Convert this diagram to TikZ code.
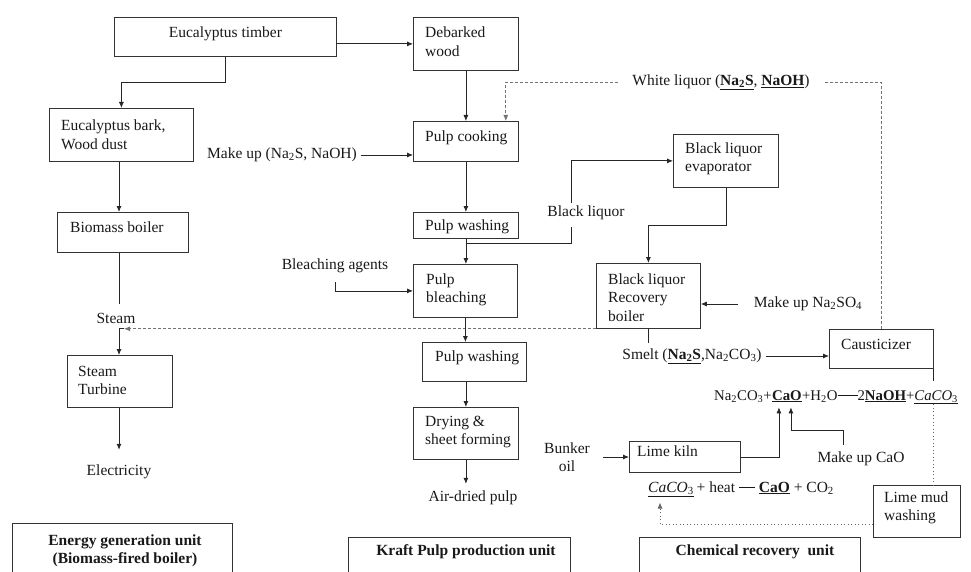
\documentclass[tikz,border=0pt]{standalone}
\usepackage{fontspec}
\setmainfont{Liberation Serif}
\usetikzlibrary{arrows.meta,calc}
\newcommand\mybox[5]{\node[box, minimum width=#4pt, minimum height=#5pt] (#1) at (#2,#3) {};}
\begin{document}
\begin{tikzpicture}[x=1pt,y=-1pt,
  ln/.style={draw=black!85, line width=0.8pt},
  arr/.style={ln, -{Latex[length=6pt,width=5pt]}},
  dsh/.style={draw=black!55, line width=0.8pt, dash pattern=on 3pt off 2pt},
  dsharr/.style={dsh, -{Latex[length=6pt,width=5pt]}},
  dotln/.style={draw=black!60, line width=0.9pt, dash pattern=on 1pt off 2.5pt},
  dotarr/.style={dotln, -{Latex[length=6pt,width=5pt]}},
  box/.style={draw=black!80, line width=0.8pt, anchor=north west, inner sep=0pt},
  t/.style={font=\fontsize{15.5}{18.5}\selectfont, inner sep=0pt, align=left, text=black!90},
  teq/.style={font=\fontsize{14.8}{18}\selectfont, inner sep=0pt, text=black!90},
  tb/.style={font=\fontsize{15.5}{18.5}\selectfont\bfseries, inner sep=0pt, align=center, text=black!90}]
\useasboundingbox (0,0) rectangle (971,572);
\fill[white] (0,0) rectangle (971,572);
% ---------- boxes ----------
\mybox{timber}{114}{17}{222}{39}
\node[t, yshift=3pt] (timbert) at (timber.center) {Eucalyptus timber};
\mybox{debark}{413}{17}{105}{53}
\node[t, anchor=west, yshift=2pt] (debarkt) at ([xshift=12pt]debark.west) {Debarked\\wood};
\mybox{bark}{49}{108}{144}{53}
\node[t, anchor=west] (barkt) at ([xshift=12pt]bark.west) {Eucalyptus bark,\\Wood dust};
\mybox{cook}{413}{121}{105}{40}
\node[t, anchor=west, yshift=4pt] (cookt) at ([xshift=12pt]cook.west) {Pulp cooking};
\mybox{wash1}{413}{212}{105}{26}
\node[t, anchor=west, yshift=-1pt] (wash1t) at ([xshift=12pt]wash1.west) {Pulp washing};
\mybox{bleach}{413}{264}{104}{53}
\node[t, anchor=west, yshift=1pt] (bleacht) at ([xshift=13pt]bleach.west) {Pulp\\bleaching};
\mybox{wash2}{422}{342}{104}{39}
\node[t, anchor=west, yshift=4pt] (wash2t) at ([xshift=13pt]wash2.west) {Pulp washing};
\mybox{dry}{413}{407}{105}{52}
\node[t, anchor=west, yshift=1.5pt] (dryt) at ([xshift=12pt]dry.west) {Drying \&\\sheet forming};
\mybox{boiler}{57}{212}{131}{40}
\node[t, anchor=west, yshift=5pt] (boilert) at ([xshift=13pt]boiler.west) {Biomass boiler};
\mybox{turb}{67}{355}{105}{52}
\node[t, anchor=west, yshift=1pt] (turbt) at ([xshift=11pt]turb.west) {Steam\\Turbine};
\mybox{evap}{673}{134}{105}{53}
\node[t, anchor=west, yshift=2pt] (evapt) at ([xshift=12pt]evap.west) {Black liquor\\evaporator};
\mybox{recov}{596}{263}{104}{65}
\node[t, anchor=west, yshift=-1.5pt] (recovt) at ([xshift=12pt]recov.west) {Black liquor\\Recovery\\boiler};
\mybox{caus}{829}{329}{104}{39}
\node[t, anchor=west, yshift=4.5pt] (caust) at ([xshift=12pt]caus.west) {Causticizer};
\mybox{kiln}{629}{441}{111}{31}
\node[t, anchor=west, yshift=6pt] (kilnt) at ([xshift=8pt]kiln.west) {Lime kiln};
\mybox{lmw}{873}{485}{87}{52}
\node[t, anchor=west, yshift=3.5pt] (lmwt) at ([xshift=11pt]lmw.west) {Lime mud\\washing};
% unit boxes
\mybox{energy}{12}{523}{220}{62}
\node[tb] (energyt) at (125,551) {Energy generation unit\\(Biomass-fired boiler)};
\mybox{kraft}{348}{537}{222}{50}
\node[tb] (kraftt) at (466,552) {Kraft Pulp production unit};
\mybox{chem}{639}{537}{221}{50}
\node[tb] (chemt) at (755,552) {Chemical recovery\ \ unit};
% ---------- free labels ----------
\node[t] (mk1) at (282,155) {Make up (Na\textsubscript{2}S, NaOH)};
\node[t, inner xsep=14pt] (wlq) at (721,82) {White liquor (\underline{\textbf{Na\textsubscript{2}S}}, \underline{\textbf{NaOH}})};
\node[t] (blq) at (586,213) {Black liquor};
\node[t] (bag) at (335,266) {Bleaching agents};
\node[t] (steam) at (116,318) {Steam};
\node[t] (elec) at (119,472) {Electricity};
\node[t] (air) at (473,498) {Air-dried pulp};
\node[t] (mkna) at (808,304) {Make up Na\textsubscript{2}SO\textsubscript{4}};
\node[t] (smelt) at (692,356) {Smelt (\underline{\textbf{Na\textsubscript{2}S}},Na\textsubscript{2}CO\textsubscript{3})};
\node[t, align=center] (bunk) at (567,457) {Bunker\\oil};
\node[t] (mkcao) at (861,459) {Make up CaO};
% equations
\node[teq, anchor=base west] (eq1) at (714,400) {Na\textsubscript{2}CO\textsubscript{3}+};
\node[teq, anchor=base west] (eqcao) at (eq1.base east) {\underline{\textbf{CaO}}};
\node[teq, anchor=base west] (eq2) at (eqcao.base east) {+H\textsubscript{2}O\rule[0.3em]{20pt}{0.6pt}2\underline{\textbf{NaOH}}+\underline{\textit{CaCO}\textsubscript{3}}};
\node[t, anchor=base west] (eqk1) at (648,492) {\underline{\textit{CaCO}\textsubscript{3}}};
\node[t, anchor=base west] (eqk2) at (eqk1.base east) {\,+ heat \rule[0.3em]{16pt}{0.6pt} \underline{\textbf{CaO}} + CO\textsubscript{2}};
% ---------- coordinates ----------
\coordinate (col) at (119,0);
\coordinate (sj) at (col |- recov.south west);
\coordinate (bl1) at ($(wash1.south)+(0,5)$);
\coordinate (bla) at (571,227);
\coordinate (blb) at (571,203);
\coordinate (cao1) at ([xshift=7pt,yshift=-5pt]eqcao.south west);
\coordinate (cao2) at ([xshift=19pt,yshift=-5pt]eqcao.south west);
\coordinate (c3) at ([xshift=12pt,yshift=-6pt]eqk1.south west);
% ---------- connectors ----------
\draw[arr] (timber.east |- debark.west) -- (debark.west);
\draw[arr] (timber.south) -- ++(0,26) -| (bark.north);
\draw[arr] (bark.south -| col) -- (boiler.north -| col);
\draw[ln] (boiler.south -| col) -- ([yshift=9pt]steam.north -| col);
\draw[dsharr] (recov.south west) -- ([xshift=5pt]sj);
\draw[ln] ([xshift=5pt]sj) -- (sj);
\draw[arr] (sj) -- (turb.north -| col);
\draw[arr] (turb.south -| col) -- ([yshift=15pt]elec.north);
\draw[arr] ([xshift=4pt]mk1.east) -- (mk1.east -| cook.west);
\draw[arr] (debark.south) -- (cook.north);
\draw[arr] (cook.south) -- (wash1.north);
\draw[arr] (wash1.south) -- (wash1.south |- bleach.north);
\draw[arr] (bleach.south) -- (bleach.south |- wash2.north);
\draw[arr] (dry.north |- wash2.south) -- (dry.north);
\draw[arr] (dry.south) -- ++(0,24);
\draw[arr] ([yshift=-9pt]bag.south) |- (bleach.west);
\draw[ln] (bl1) -| (bla);
\draw[arr] (blb) |- (evap.west);
\draw[arr] (evap.south) -- ++(0,38) -| (recov.north);
\draw[arr] ([xshift=-16pt]mkna.west) -- (mkna.west -| recov.east);
\draw[ln] (recov.south) -- ++(0,14);
\draw[arr] ([xshift=4pt]smelt.east) -- (smelt.east -| caus.west);
\draw[dsh] (caus.north) |- (wlq.east);
\draw[dsharr] (wlq.west) -| ([xshift=-13pt]cook.north east);
\draw[ln] (caus.south east) -- ++(0,12);
\draw[dotln] (caus.south east |- eq2.south) -- (caus.south east |- lmw.north);
\draw[arr] ([xshift=13pt]bunk.east) -- (bunk.east -| kiln.west);
\draw[arr] (kiln.east) -| (cao1);
\draw[arr] ([xshift=-18pt,yshift=7pt]mkcao.north) -- ++(0,-14) -| (cao2);
\draw[dotarr] ([yshift=-13pt]lmw.west) -| (c3);
\end{tikzpicture}
\end{document}
